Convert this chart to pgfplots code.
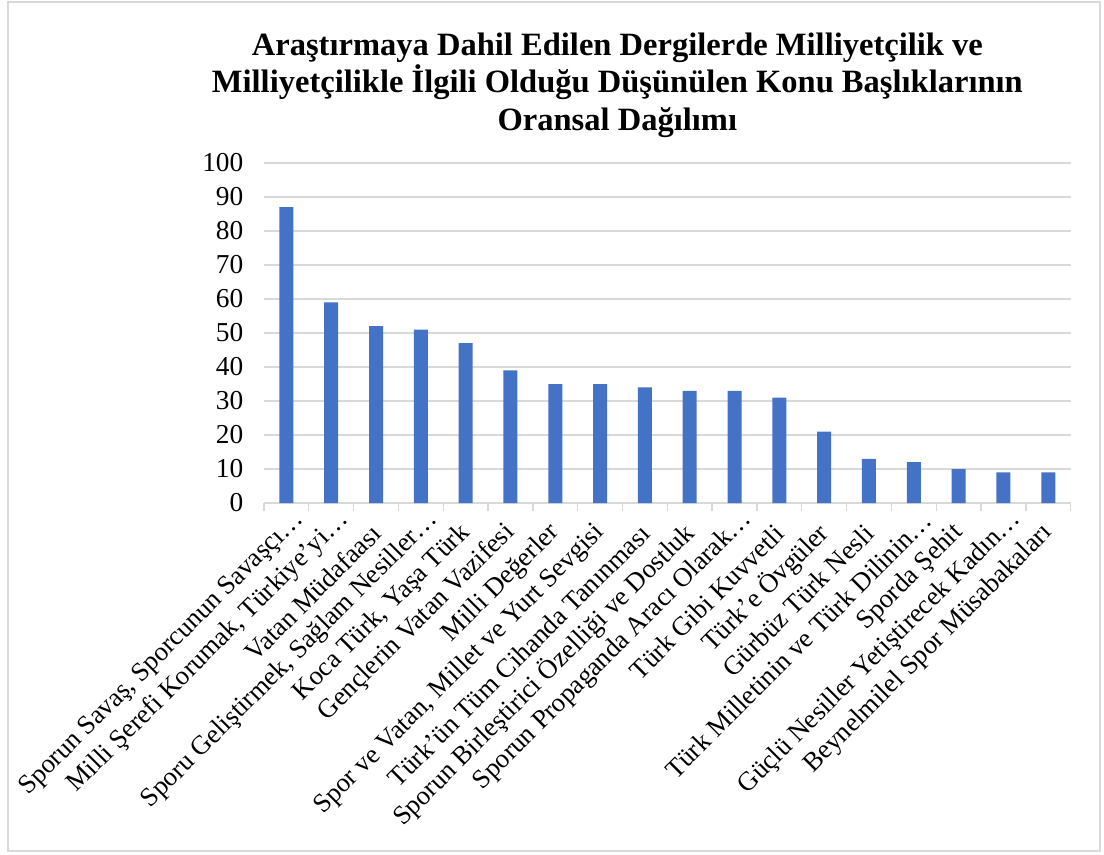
\documentclass[border=0pt]{standalone}
\usepackage{pgfplots}
\pgfplotsset{compat=1.18}
\usepackage{fontspec}
\setmainfont{Liberation Serif}
\definecolor{barblue}{HTML}{4472C4}
\definecolor{gridgray}{HTML}{D9D9D9}
% truncated labels: the ellipsis hangs past the anchor, as in the original
\newcommand{\tr}{…\kern-14pt}
\begin{document}
\begin{tikzpicture}
\path[use as bounding box] (-198pt,-263.25pt) rectangle (630pt,377.25pt);
\draw[gridgray, line width=1.5pt] (-192pt,-261pt) rectangle (627pt,376pt);
\node[font=\bfseries\fontsize{24.4}{28}\selectfont, align=center] at (265pt,313.5pt)
  {Araştırmaya Dahil Edilen Dergilerde Milliyetçilik ve\\
   Milliyetçilikle İlgili Olduğu Düşünülen Konu Başlıklarının\\
   Oransal Dağılımı};
\begin{axis}[
    at={(0,0)}, anchor=south west,
    scale only axis, width=605pt, height=255pt,
    xmin=-0.5, xmax=17.5, ymin=0, ymax=100,
    ytick={0,10,...,100},
    xtick={0,...,17},
    minor xtick={-0.5,0.5,...,17.5},
    xticklabels={
      {Sporun Savaş, Sporcunun Savaşçı\tr},
      {Milli Şerefi Korumak, Türkiye’yi\tr},
      {Vatan Müdafaası},
      {Sporu Geliştirmek, Sağlam Nesiller\tr},
      {Koca Türk, Yaşa Türk},
      {Gençlerin Vatan Vazifesi},
      {Milli Değerler},
      {Spor ve Vatan, Millet ve Yurt Sevgisi},
      {Türk’ün Tüm Cihanda Tanınması},
      {Sporun Birleştirici Özelliği ve Dostluk},
      {Sporun Propaganda Aracı Olarak\tr},
      {Türk Gibi Kuvvetli},
      {Türk’e Övgüler},
      {Gürbüz Türk Nesli},
      {Türk Milletinin ve Türk Dilinin\tr},
      {Sporda Şehit},
      {Güçlü Nesiller Yetiştirecek Kadın\tr},
      {Beynelmilel Spor Müsabakaları}},
    axis x line*=bottom, axis y line*=left,
    x axis line style={gridgray, line width=1pt, -},
    y axis line style={draw=none},
    ymajorgrids, grid style={gridgray, line width=1pt},
    tick align=outside,
    major tick length=0pt, minor tick length=6pt,
    minor x tick style={gridgray, line width=1pt},
    ytick style={draw=none},
    xticklabel style={rotate=45, anchor=east, font=\fontsize{20}{24}\selectfont,
      inner sep=1pt, yshift=-14pt, xshift=-12.5pt},
    yticklabel style={font=\fontsize{20.5}{24}\selectfont, xshift=-12pt},
    /pgf/number format/assume math mode=true,
]
\addplot[ybar, fill=barblue, draw=none, bar width=10.5pt] coordinates {
  (0,87) (1,59) (2,52) (3,51) (4,47) (5,39) (6,35) (7,35) (8,34)
  (9,33) (10,33) (11,31) (12,21) (13,13) (14,12) (15,10) (16,9) (17,9)};
\end{axis}
\end{tikzpicture}
\end{document}
